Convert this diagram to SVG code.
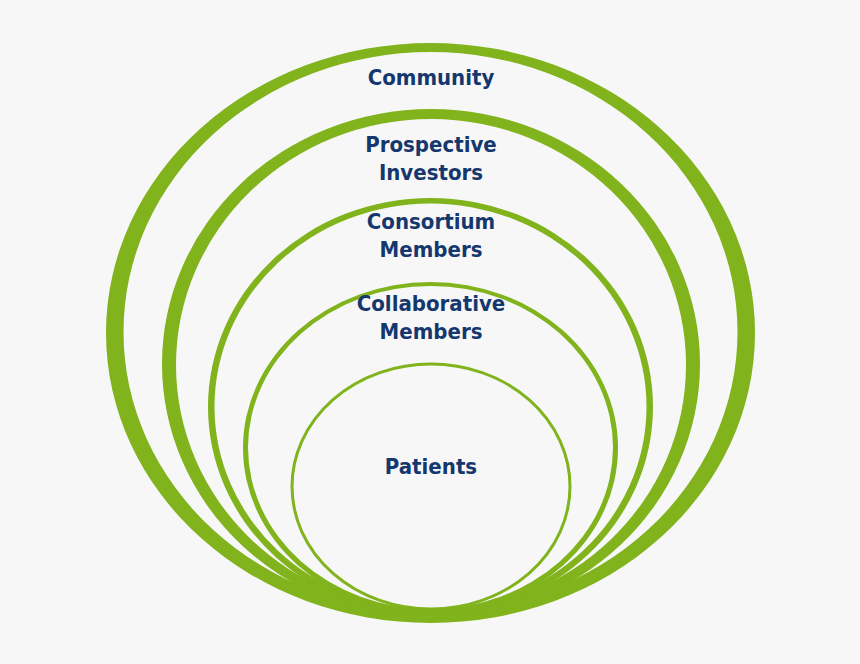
<svg xmlns="http://www.w3.org/2000/svg" width="860" height="664" viewBox="0 0 860 664">
  <style>
    .ring { fill: #80b31c; fill-rule: evenodd; stroke: none; }
    .thin { fill: none; stroke: #80b31c; stroke-width: 3; }
    .lbl { font-family: "DejaVu Sans Condensed", "DejaVu Sans", "Liberation Sans", sans-serif; font-stretch: condensed; font-weight: bold; font-size: 22px; fill: #14386e; text-anchor: middle; }
  </style>
  <rect x="0" y="0" width="860" height="664" fill="#f7f7f7"/>
  <g id="community">
    <path class="ring" d="M106,333 a324.5,290 0 1,0 649,0 a324.5,290 0 1,0 -649,0 Z M123.5,332 a307,280 0 1,0 614,0 a307,280 0 1,0 -614,0 Z"/>
    <text class="lbl" x="431" y="85">Community</text>
  </g>
  <g id="prospective-investors">
    <path class="ring" d="M162,364 a269,255 0 1,0 538,0 a269,255 0 1,0 -538,0 Z M176,365 a255,246 0 1,0 510,0 a255,246 0 1,0 -510,0 Z"/>
    <text class="lbl" x="431" y="152">Prospective</text>
    <text class="lbl" x="431" y="180">Investors</text>
  </g>
  <g id="consortium-members">
    <path class="ring" d="M208,407 a222.5,209 0 1,0 445,0 a222.5,209 0 1,0 -445,0 Z M214.5,406.75 a216,203.25 0 1,0 432,0 a216,203.25 0 1,0 -432,0 Z"/>
    <text class="lbl" x="431" y="229">Consortium</text>
    <text class="lbl" x="431" y="257">Members</text>
  </g>
  <g id="collaborative-members">
    <path class="ring" d="M243,448 a187.5,166 0 1,0 375,0 a187.5,166 0 1,0 -375,0 Z M248,447.5 a182.5,161.5 0 1,0 365,0 a182.5,161.5 0 1,0 -365,0 Z"/>
    <text class="lbl" x="431" y="311">Collaborative</text>
    <text class="lbl" x="431" y="339">Members</text>
  </g>
  <g id="patients">
    <ellipse class="thin" cx="431" cy="486.5" rx="139" ry="122.5"/>
    <text class="lbl" x="431" y="474">Patients</text>
  </g>
</svg>
